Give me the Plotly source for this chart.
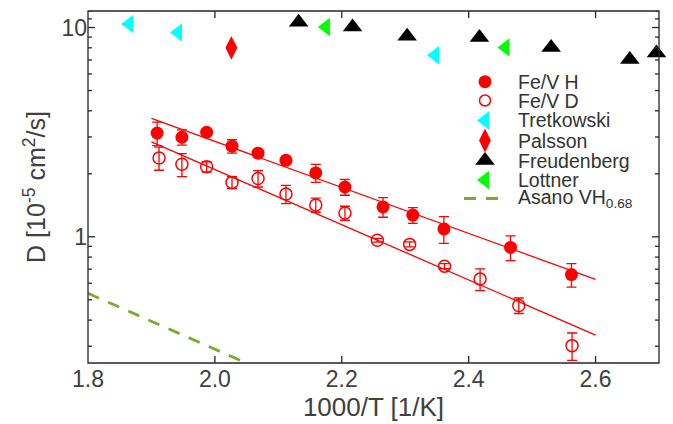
import plotly.graph_objects as go

# ---------------- data ----------------
h_x = [1.909, 1.948, 1.987, 2.027, 2.068, 2.112, 2.159, 2.205, 2.265, 2.312, 2.361, 2.466, 2.562]
h_y = [3.13, 2.99, 3.16, 2.71, 2.51, 2.32, 2.02, 1.73, 1.39, 1.27, 1.09, 0.89, 0.66]
h_err = [0.40, 0.25, 0.12, 0.20, 0.10, 0.10, 0.20, 0.15, 0.15, 0.11, 0.16, 0.12, 0.085]

d_x = [1.912, 1.948, 1.987, 2.027, 2.068, 2.112, 2.159, 2.205, 2.256, 2.307, 2.362, 2.418, 2.479, 2.563]
d_y = [2.38, 2.22, 2.16, 1.82, 1.90, 1.60, 1.42, 1.30, 0.963, 0.92, 0.724, 0.628, 0.47, 0.302]
d_err = [0.30, 0.28, 0.12, 0.12, 0.17, 0.16, 0.11, 0.10, 0.02, 0.025, 0.02, 0.075, 0.04, 0.045]

fit_x = [1.90, 2.60]
fit_h = [3.68, 0.626]
fit_d = [2.84, 0.339]

tret_x = [1.865, 1.942, 2.347]
tret_y = [10.4, 9.47, 7.38]

pals_x = [2.026]
pals_y = [8.0]

freu_x = [2.132, 2.217, 2.303, 2.417, 2.530, 2.654, 2.696]
freu_y = [10.6, 10.07, 9.09, 8.96, 8.02, 7.03, 7.56]

lott_x = [2.175, 2.458]
lott_y = [10.07, 8.02]

asano_x = [1.80, 2.05]
asano_y = [0.537, 0.249]

legend_names = ["Fe/V H", "Fe/V D", "Tretkowski", "Palsson", "Freudenberg", "Lottner",
                "Asano VH<sub>0.68</sub>"]

y_tickvals = [1, 10]
y_ticktext = ["1", "10"]
y_minor = [0.3, 0.4, 0.5, 0.6, 0.7, 0.8, 0.9, 2, 3, 4, 5, 6, 7, 8, 9, 11, 12]
x_tickvals = [1.8, 2.0, 2.2, 2.4, 2.6]
x_ticktext = ["1.8", "2.0", "2.2", "2.4", "2.6"]

# ---------------- styling ----------------
RED = "#ff0000"
CYAN = "#00ffff"
GREEN = "#00ff00"
OLIVE = "#77ac30"
AX = "#262626"
TXT = "#404040"
FONT = "Liberation Sans, Arial, sans-serif"

W, H = 673, 424
ML, MR, MT, MB = 88, 14, 11, 61
PW, PH = W - ML - MR, H - MT - MB
XR = [1.8, 2.7]
YR = [-0.603, 1.079]


def px_to_x(px):
    return XR[0] + (px - ML) / PW * (XR[1] - XR[0])


def py_to_y(py):
    return 10 ** (YR[1] - (py - MT) / PH * (YR[1] - YR[0]))


fig = go.Figure()

fig.add_trace(go.Scatter(x=fit_x, y=fit_h, mode="lines", line=dict(color=RED, width=1.3),
                         showlegend=False, hoverinfo="skip"))
fig.add_trace(go.Scatter(x=fit_x, y=fit_d, mode="lines", line=dict(color=RED, width=1.3),
                         showlegend=False, hoverinfo="skip"))
fig.add_trace(go.Scatter(x=asano_x, y=asano_y, mode="lines",
                         line=dict(color=OLIVE, width=2.8, dash="12px,10px"),
                         showlegend=False))

fig.add_trace(go.Scatter(x=h_x, y=h_y, mode="markers",
                         error_y=dict(type="data", array=h_err, color=RED, thickness=1.3, width=5),
                         marker=dict(symbol="circle", size=13, color=RED, line=dict(width=0)),
                         showlegend=False))
fig.add_trace(go.Scatter(x=d_x, y=d_y, mode="markers",
                         error_y=dict(type="data", array=d_err, color=RED, thickness=1.3, width=5),
                         marker=dict(symbol="circle-open", size=12, color=RED, line=dict(width=1.5)),
                         showlegend=False))
fig.add_trace(go.Scatter(x=tret_x, y=tret_y, mode="markers", cliponaxis=False,
                         marker=dict(symbol="triangle-left", size=16, color=CYAN), showlegend=False))
fig.add_trace(go.Scatter(x=pals_x, y=pals_y, mode="markers",
                         marker=dict(symbol="diamond-tall", size=17, color=RED), showlegend=False))
fig.add_trace(go.Scatter(x=freu_x, y=freu_y, mode="markers", cliponaxis=False,
                         marker=dict(symbol="triangle-up", size=17, color="black"), showlegend=False))
fig.add_trace(go.Scatter(x=lott_x, y=lott_y, mode="markers", cliponaxis=False,
                         marker=dict(symbol="triangle-left", size=16, color=GREEN), showlegend=False))

# ---------------- hand-made legend ----------------
row_px = [81.7, 100.5, 120.5, 140.5, 160.5, 180.0, 198.5]
sym_px = 485
txt_px = 516
leg_syms = [
    dict(symbol="circle", size=13, color=RED),
    dict(symbol="circle-open", size=11, color=RED, line=dict(width=1.5)),
    dict(symbol="triangle-left", size=16, color=CYAN),
    dict(symbol="diamond-tall", size=17, color=RED),
    dict(symbol="triangle-up", size=17, color="black"),
    dict(symbol="triangle-left", size=16, color=GREEN),
]
for i, m in enumerate(leg_syms):
    fig.add_trace(go.Scatter(x=[px_to_x(sym_px)], y=[py_to_y(row_px[i])], mode="markers", marker=m,
                             showlegend=False, hoverinfo="skip"))
fig.add_trace(go.Scatter(x=[px_to_x(464), px_to_x(502)], y=[py_to_y(row_px[6])] * 2, mode="lines",
                         line=dict(color=OLIVE, width=2.8, dash="12px,10px"),
                         showlegend=False, hoverinfo="skip"))
for i, name in enumerate(legend_names):
    fig.add_annotation(x=(txt_px - ML) / PW, y=(H - MB - row_px[i]) / PH, xref="paper", yref="paper",
                       text=name, showarrow=False, xanchor="left", yanchor="middle",
                       font=dict(family=FONT, size=19.5, color="#333333"))

# ---------------- frame and ticks drawn as shapes (inside-pointing, on all four sides) ----------------
fig.add_shape(type="rect", xref="paper", yref="paper", x0=0, y0=0, x1=1, y1=1,
              line=dict(color=AX, width=1.3), layer="above")
for v, ln in [(t, 7) for t in y_tickvals] + [(t, 4) for t in y_minor]:
    fig.add_shape(type="line", xref="x", yref="y", xsizemode="pixel", xanchor=XR[0],
                  x0=0, x1=ln, y0=v, y1=v, line=dict(color=AX, width=1.3))
    fig.add_shape(type="line", xref="x", yref="y", xsizemode="pixel", xanchor=XR[1],
                  x0=-ln, x1=0, y0=v, y1=v, line=dict(color=AX, width=1.3))
for v in x_tickvals[1:]:
    fig.add_shape(type="line", xref="x", yref="paper", ysizemode="pixel", yanchor=0,
                  y0=0, y1=7, x0=v, x1=v, line=dict(color=AX, width=1.3))
    fig.add_shape(type="line", xref="x", yref="paper", ysizemode="pixel", yanchor=1,
                  y0=-7, y1=0, x0=v, x1=v, line=dict(color=AX, width=1.3))

axis_common = dict(showline=False, ticks="", showgrid=False, zeroline=False, automargin=False,
                   tickfont=dict(family=FONT, size=23, color=TXT))

fig.update_layout(
    template="none",
    width=W, height=H, margin=dict(l=ML, r=MR, t=MT, b=MB),
    paper_bgcolor="white", plot_bgcolor="white", showlegend=False,
    xaxis=dict(range=XR, tickmode="array", tickvals=x_tickvals, ticktext=x_ticktext,
               title=dict(text="1000/T [1/K]", standoff=2,
                          font=dict(family=FONT, size=26, color=TXT)),
               **axis_common),
    yaxis=dict(type="log", range=YR, tickmode="array", tickvals=y_tickvals,
               ticktext=y_ticktext,
               title=dict(text="D [10<sup>-5</sup> cm<sup>2</sup>/s]", standoff=8,
                          font=dict(family=FONT, size=25, color=TXT)),
               **axis_common),
)

fig.write_html("out.html", config={"displayModeBar": False},
               post_script="document.body.style.margin='0px';")
